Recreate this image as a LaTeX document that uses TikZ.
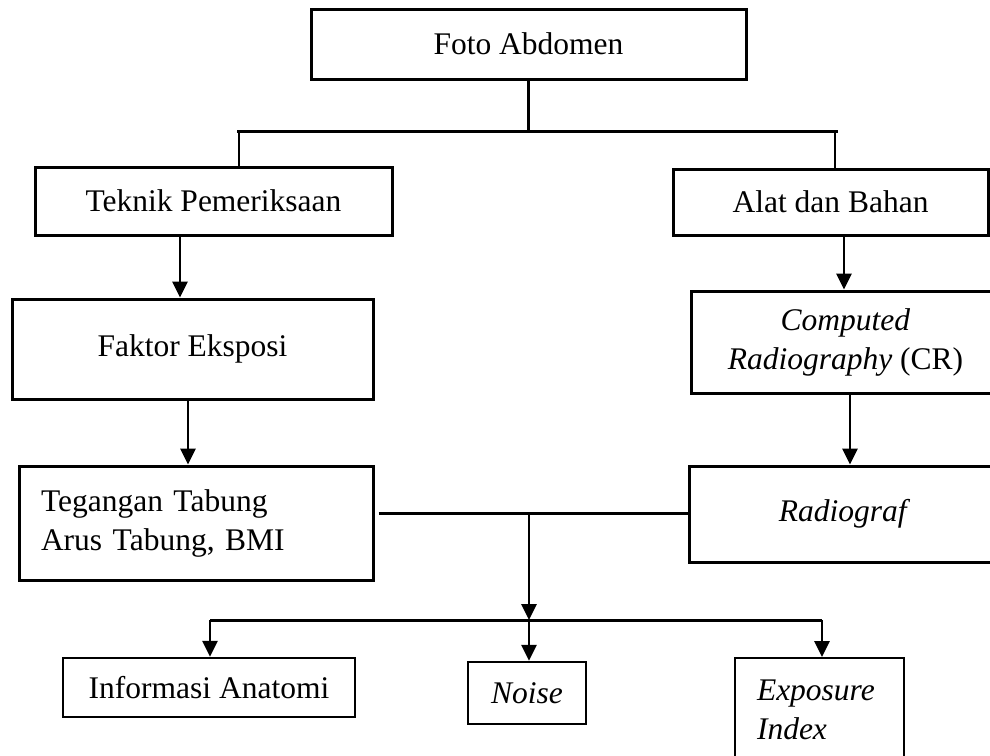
\documentclass[tikz,border=0pt]{standalone}
\usepackage{fontspec}
\setmainfont{Liberation Serif}
\usetikzlibrary{arrows.meta,calc}
\begin{document}
\begin{tikzpicture}[x=1pt,y=-1pt,
  every node/.style={font=\fontsize{31.5}{39}\selectfont},
  box/.style={draw, line width=3pt, inner sep=0pt, align=center},
  lbox/.style={draw, line width=2.4pt, inner sep=0pt, align=center},
  conn/.style={line width=3pt},
  thin/.style={line width=1.6pt},
  arr/.style={line width=2.8pt, -{Triangle[length=16pt,width=15pt]}}]
\useasboundingbox (0,0) rectangle (990,755);
% nodes
\node[box, minimum width=435pt, minimum height=70pt] (foto) at (528.5,44) {Foto Abdomen};
\node[box, minimum width=357pt, minimum height=68pt] (teknik) at (213.5,201) {Teknik Pemeriksaan};
\node[box, minimum width=315pt, minimum height=66pt] (alat) at (830.5,202) {Alat dan Bahan};
\node[box, minimum width=361pt, minimum height=100pt] (faktor) at (192.5,349) {Faktor Eksposi};
\node[box, minimum width=309pt, minimum height=102pt] (cr) at (845.5,342) {\textit{Computed}\\\textit{Radiography} (CR)};
\node[box, minimum height=114pt, text width=310pt, inner xsep=22pt, align=left] (teg) at (196,523) {Tegangan Tabung\\Arus Tabung, BMI};
\node[box, minimum width=311pt, minimum height=96pt] (radio) at (844.5,514) {\textit{Radiograf}};
\node[lbox, minimum width=292pt, minimum height=59pt] (info) at (209,687.5) {Informasi Anatomi};
\node[lbox, minimum width=118pt, minimum height=62pt] (noise) at (527,693) {\textit{Noise}};
\node[lbox, anchor=north, minimum height=103pt, text width=125pt, inner xsep=22pt, align=left] (expo) at (819.5,657) {\textit{Exposure}\\\textit{Index}};
% helper coordinates
\coordinate (barL) at (239,131);
\coordinate (barR) at (835,131);
\coordinate (xa) at (180,0);
\coordinate (xb) at (188,0);
\coordinate (xc) at (844,0);
\coordinate (xd) at (850,0);
\coordinate (mid) at (529,513);
\coordinate (botbar) at (529,620);
\coordinate (bL) at (210,620);
\coordinate (bR) at (822,620);
% top connectors
\draw[conn] (foto.south) -- (foto.south |- barL);
\draw[conn] (237,131) -- (838,131);
\draw[thin] (barL) -- (barL |- teknik.north);
\draw[thin] (barR) -- (barR |- alat.north);
% left column
\draw[arr] (teknik.south -| xa) -- (faktor.north -| xa);
\draw[arr] (faktor.south -| xb) -- (teg.north -| xb);
% right column
\draw[arr] (alat.south -| xc) -- (cr.north -| xc);
\draw[arr] (cr.south -| xd) -- (radio.north -| xd);
% join
\draw[conn] (teg.east |- mid) ++(4,0) -- (radio.west |- mid);
\draw[arr] (mid) -- (botbar);
\draw[conn] (bL) -- (bR);
\draw[arr] (bL) -- (bL |- info.north);
\draw[arr] (botbar) -- (botbar |- noise.north);
\draw[arr] (bR) -- (bR |- expo.north);
\end{tikzpicture}
\end{document}
